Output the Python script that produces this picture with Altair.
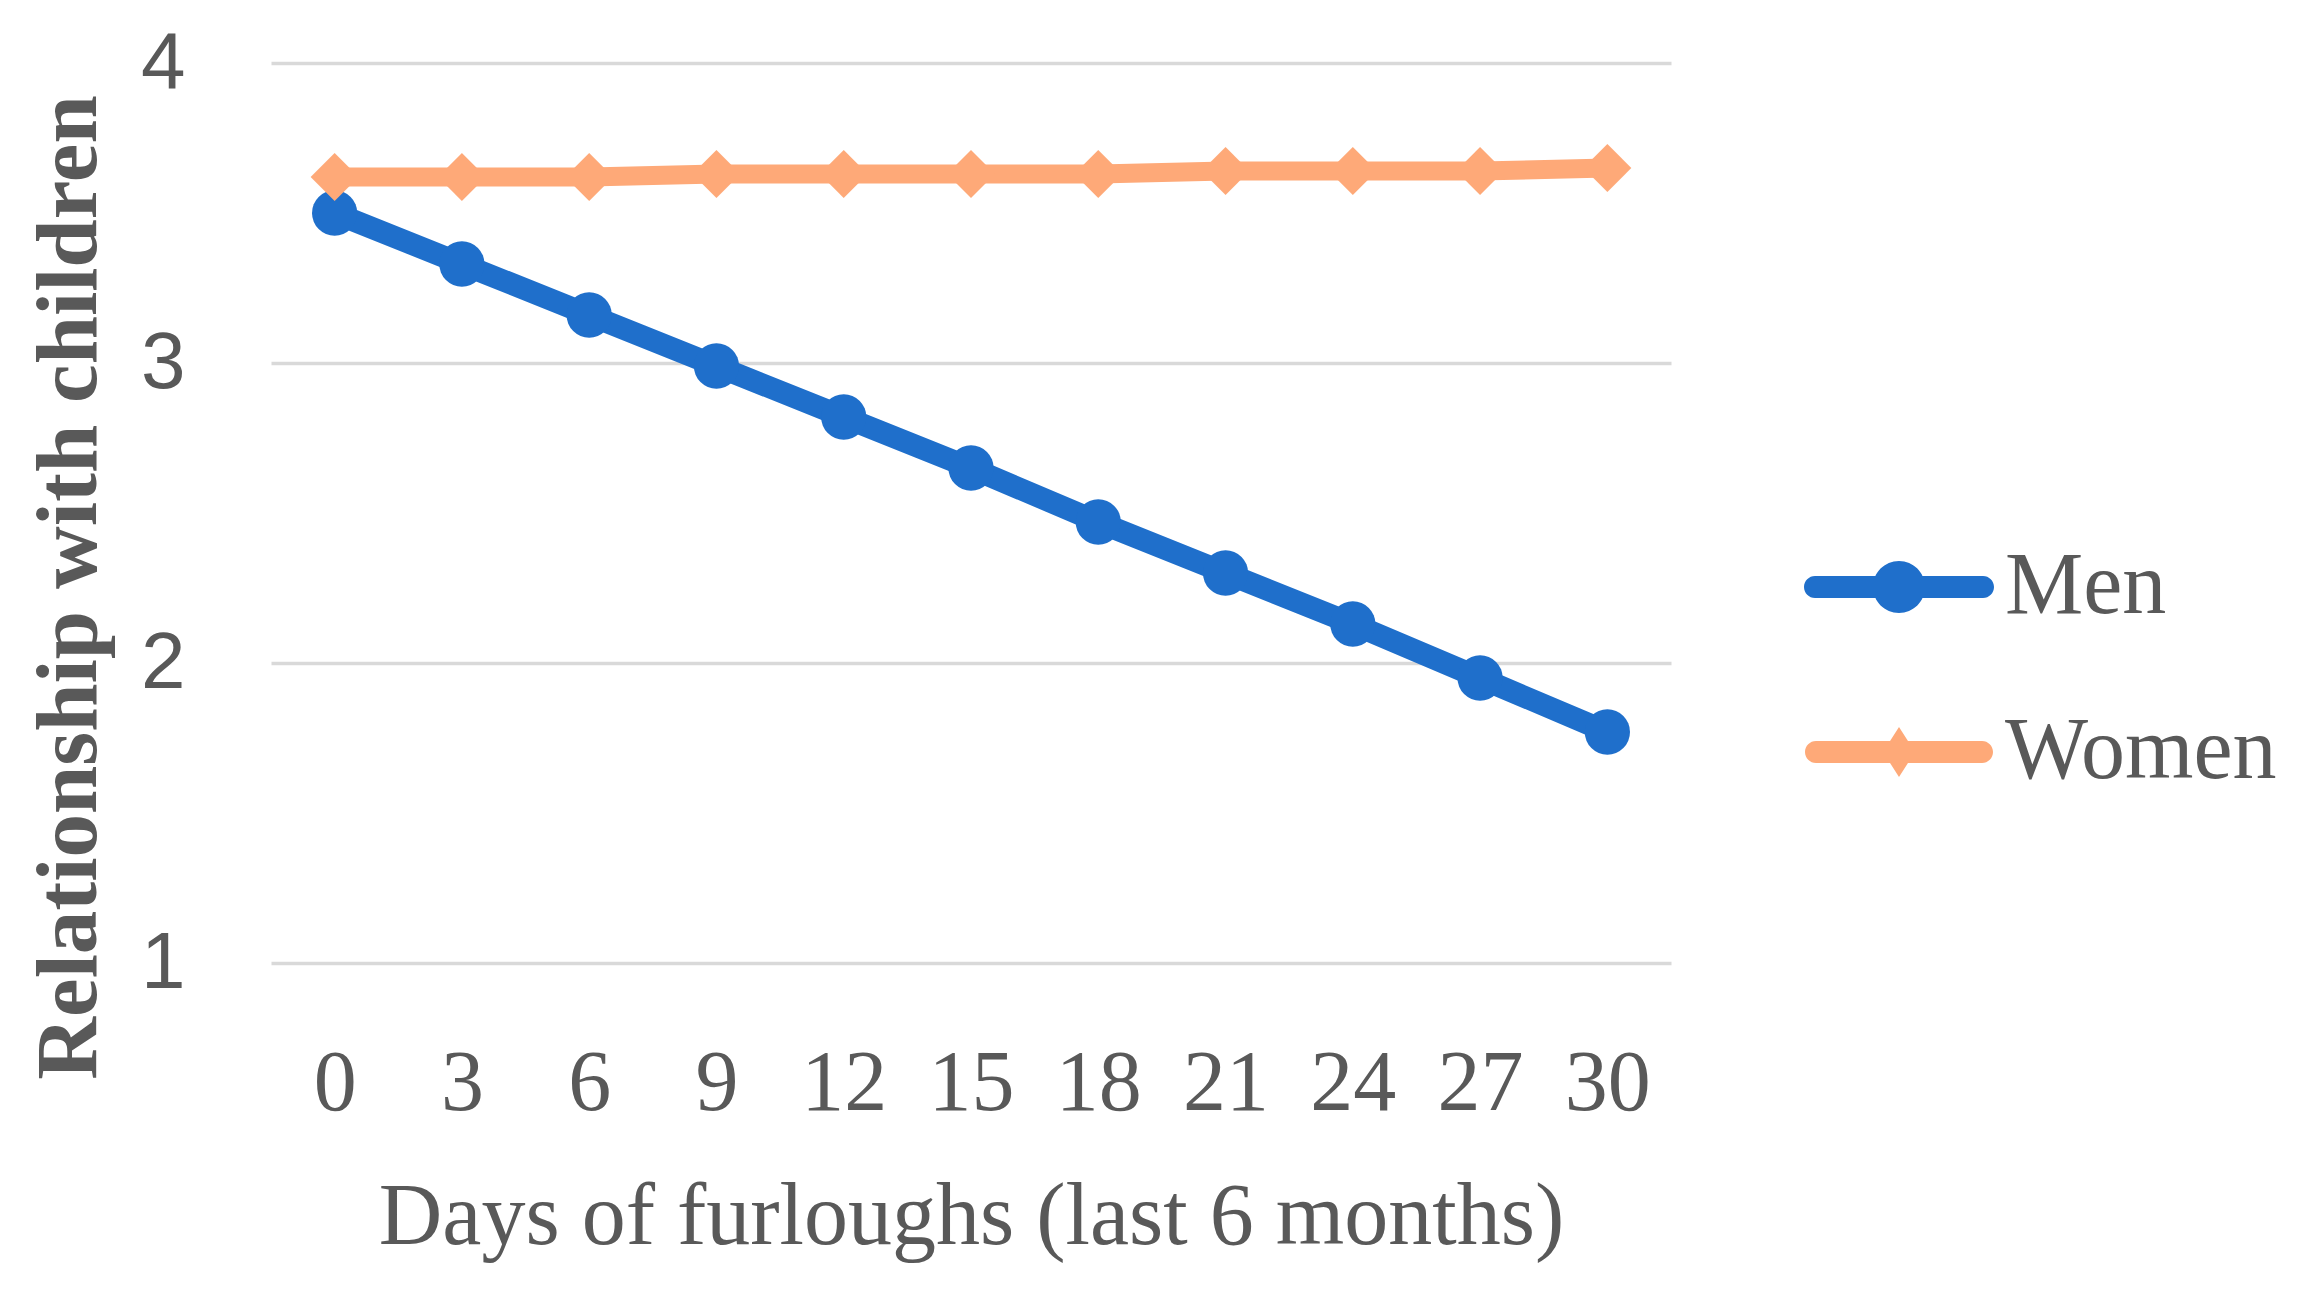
import altair as alt
import pandas as pd

days = [0, 3, 6, 9, 12, 15, 18, 21, 24, 27, 30]
men = [3.50, 3.33, 3.16, 2.99, 2.82, 2.65, 2.47, 2.30, 2.13, 1.95, 1.77]
women = [3.62, 3.62, 3.62, 3.63, 3.63, 3.63, 3.63, 3.64, 3.64, 3.64, 3.65]
series = ["Men", "Women"]
colors = ["#1F6FCB", "#FEA978"]
y_ticks = [1, 2, 3, 4]

rows = []
for d, v in zip(days, men):
    rows.append({"day": d, "value": v, "series": "Men"})
for d, v in zip(days, women):
    rows.append({"day": d, "value": v, "series": "Women"})
df = pd.DataFrame(rows)

TEXT = "#595959"
SERIF = "Liberation Serif"

# legend symbols: line stub with marker (unit = half of sqrt(symbolSize))
men_path = ("M-1.68,-0.22L1.68,-0.22A0.22,0.22,0,0,1,1.68,0.22L-1.68,0.22A0.22,0.22,0,0,1,-1.68,-0.22Z "
            "M-0.52,0A0.52,0.52,0,1,1,0.52,0A0.52,0.52,0,1,1,-0.52,0Z")
women_path = ("M-1.66,-0.22L1.66,-0.22A0.22,0.22,0,0,1,1.66,0.22L-1.66,0.22A0.22,0.22,0,0,1,-1.66,-0.22Z "
              "M0,-0.5L0.32,0L0,0.5L-0.32,0Z")

x_enc = alt.X(
    "day:O",
    sort=days,
    scale=alt.Scale(type="point", padding=0.5),
    axis=alt.Axis(
        title="Days of furloughs (last 6 months)",
        labelAngle=0,
        labelFont=SERIF,
        labelFontSize=86,
        labelColor=TEXT,
        labelPadding=78,
        ticks=False,
        tickSize=0,
        domain=False,
        grid=False,
        titleFont=SERIF,
        titleFontSize=88,
        titleFontWeight="normal",
        titleColor=TEXT,
        titleBaseline="alphabetic",
        titleY=280,
        titleX=700,
    ),
)
y_enc = alt.Y(
    "value:Q",
    scale=alt.Scale(domain=[1, 4], nice=False, zero=False),
    axis=alt.Axis(
        title="Relationship with children",
        values=y_ticks,
        labelFont="Liberation Sans",
        labelFontSize=80,
        labelColor=TEXT,
        labelPadding=86,
        ticks=False,
        tickSize=0,
        domain=False,
        grid=True,
        gridColor="#D9D9D9",
        gridWidth=3.5,
        titleFont=SERIF,
        titleFontSize=87,
        titleFontWeight="bold",
        titleColor=TEXT,
        titleAngle=270,
        titleAlign="center",
        titleBaseline="middle",
        titleX=-202,
        titleY=524,
    ),
)

base = alt.Chart(df)

men_line = base.transform_filter(alt.datum.series == series[0]).mark_line(
    color=colors[0], strokeWidth=22, strokeJoin="round", strokeCap="round"
).encode(x=x_enc, y=y_enc)
men_points = base.transform_filter(alt.datum.series == series[0]).mark_point(
    filled=True, opacity=1, shape="circle", size=2050, color=colors[0]
).encode(x=x_enc, y=y_enc)
women_line = base.transform_filter(alt.datum.series == series[1]).mark_line(
    color=colors[1], strokeWidth=19, strokeJoin="round", strokeCap="round"
).encode(x=x_enc, y=y_enc)
women_points = base.transform_filter(alt.datum.series == series[1]).mark_point(
    filled=True, opacity=1, shape="diamond", size=2300, color=colors[1]
).encode(x=x_enc, y=y_enc)

legend_cfg = dict(
    title=None,
    orient="none",
    legendX=1578,
    legendY=474,
    symbolSize=10000,
    symbolStrokeWidth=0,
    symbolOpacity=1,
    labelOffset=56,
    rowPadding=71,
    labelFont=SERIF,
    labelFontSize=88,
    labelColor=TEXT,
    labelLimit=600,
)

legend_layer = base.mark_point(filled=True, opacity=0).encode(
    x=x_enc,
    y=y_enc,
    color=alt.Color("series:N", scale=alt.Scale(domain=series, range=colors), legend=alt.Legend(**legend_cfg)),
    shape=alt.Shape("series:N", scale=alt.Scale(domain=series, range=[men_path, women_path]),
                    legend=alt.Legend(**legend_cfg)),
)

chart = (
    alt.layer(men_line, men_points, women_line, women_points, legend_layer)
    .properties(
        width=1400,
        height=900,
        autosize=alt.AutoSizeParams(type="none"),
        padding={"left": 263, "top": 55, "right": 615, "bottom": 300},
        background="white",
    )
    .configure_view(stroke=None)
)

chart.save("out.html", embed_options={"renderer": "svg", "actions": False})
